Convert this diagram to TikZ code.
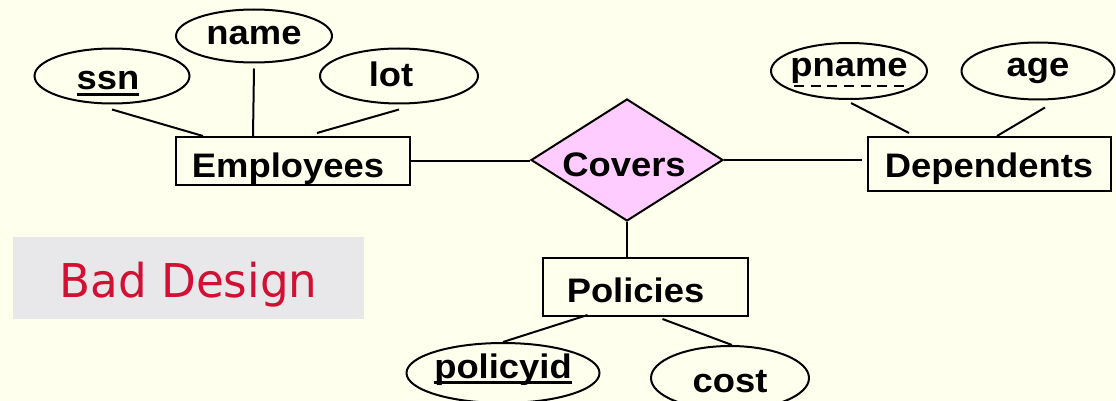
\documentclass[tikz,border=0pt]{standalone}
\usepackage{fontspec}
\usetikzlibrary{shapes.geometric}
\newfontfamily\erfont{Liberation Sans}[FakeStretch=1.07]
\newfontfamily\notefont{DejaVu Sans}[FakeStretch=0.97]
\definecolor{slidebg}{RGB}{255,255,238}
\definecolor{relfill}{RGB}{255,204,255}
\definecolor{notebg}{RGB}{232,232,234}
\definecolor{notered}{RGB}{210,16,52}
\newsavebox\ulbox
% key attribute: solid underline
\newcommand\keyul[1]{\sbox\ulbox{#1}\rlap{\rule[-6pt]{\wd\ulbox}{3pt}}\usebox\ulbox}
% partial key: dashed underline
\newcommand\partul[1]{\sbox\ulbox{#1}\rlap{\hbox to\wd\ulbox{\xleaders\hbox to 16pt{\hss\rule[-10pt]{10pt}{2pt}\hss}\hfill}}\usebox\ulbox}
\tikzset{
  ertext/.style={font=\erfont\bfseries\fontsize{34}{34}\selectfont, inner sep=0pt, text depth=0pt},
  attr/.style={ertext, ellipse, draw, line width=2pt},
  entity/.style={ertext, rectangle, draw, line width=2pt},
  relship/.style={ertext, diamond, draw, fill=relfill, line width=2pt},
  link/.style={line width=2pt},
}
\begin{document}
\begin{tikzpicture}[x=1pt, y=-1pt]
\useasboundingbox (0,0) rectangle (1116,401);
\fill[slidebg] (0,0) rectangle (1116,401);

% entities and relationship
\node[entity, minimum width=234pt, minimum height=48pt, text height=32pt] (emp) at (293,161) {\makebox[0pt]{\hspace{-10pt}Employees}};
\node[relship, minimum width=192pt, minimum height=122pt, text height=32pt] (cov) at (627,160) {\makebox[0pt]{\hspace{-6pt}Covers}};
\node[entity, minimum width=243pt, minimum height=54pt, text height=26pt] (dep) at (989,164) {\makebox[0pt]{Dependents}};
\node[entity, minimum width=205pt, minimum height=58pt, text height=30pt] (pol) at (645.5,287) {\makebox[0pt]{\hspace{-20pt}Policies}};

% attributes
\node[attr, minimum width=155pt, minimum height=55pt, text height=28pt] (ssn) at (112,76) {\makebox[0pt]{\hspace{-8pt}\keyul{ssn}}};
\node[attr, minimum width=156pt, minimum height=53pt, text height=18pt] (name) at (254,36) {\makebox[0pt]{name}};
\node[attr, minimum width=158pt, minimum height=55pt, text height=22pt] (lot) at (399,76) {\makebox[0pt]{\hspace{-16pt}lot}};
\node[attr, minimum width=156pt, minimum height=56pt, text height=12pt] (pname) at (849,71) {\makebox[0pt]{\partul{pname}}};
\node[attr, minimum width=153pt, minimum height=57pt, text height=12pt] (age) at (1038,71) {\makebox[0pt]{age}};
\node[attr, minimum width=193pt, minimum height=60pt, text height=10pt] (pid) at (503,373) {\makebox[0pt]{\keyul{policyid}}};
\node[attr, minimum width=158pt, minimum height=64pt, text height=28pt] (cost) at (730,378) {\makebox[0pt]{cost}};

% attribute links
\draw[link] ([yshift=-5pt]ssn.south) -- ([xshift=-90pt]emp.north);
\draw[link] ([yshift=-5pt]name.south) -- ([xshift=-40pt]emp.north);
\draw[link] ([yshift=-5pt]lot.south) -- ([xshift=24pt,yshift=3pt]emp.north);
\draw[link] ([xshift=2pt,yshift=-3pt]pname.south) -- ([xshift=-80pt,yshift=3pt]dep.north);
\draw[link] ([xshift=7pt,yshift=-7pt]age.south) -- ([xshift=8pt]dep.north);
\draw[link] ([xshift=-58pt,yshift=2pt]pol.south) -- (pid.north);
\draw[link] ([xshift=17pt,yshift=-2pt]pol.south) -- ([xshift=2pt]cost.north);

% relationship links
\draw[link] (emp.east) -- (emp.east -| cov.west);
\draw[link, shorten >=5pt] (cov.east) -- (cov.east -| dep.west);
\draw[link] (cov.south) -- (cov.south |- pol.north);

% note
\node[fill=notebg, minimum width=351pt, minimum height=82pt, inner sep=0pt, text height=38pt, text depth=0pt,
      text=notered, font=\notefont\fontsize{46.6}{47}\selectfont] (note) at (188.5,278) {\makebox[0pt]{Bad Design}};
\end{tikzpicture}
\end{document}
